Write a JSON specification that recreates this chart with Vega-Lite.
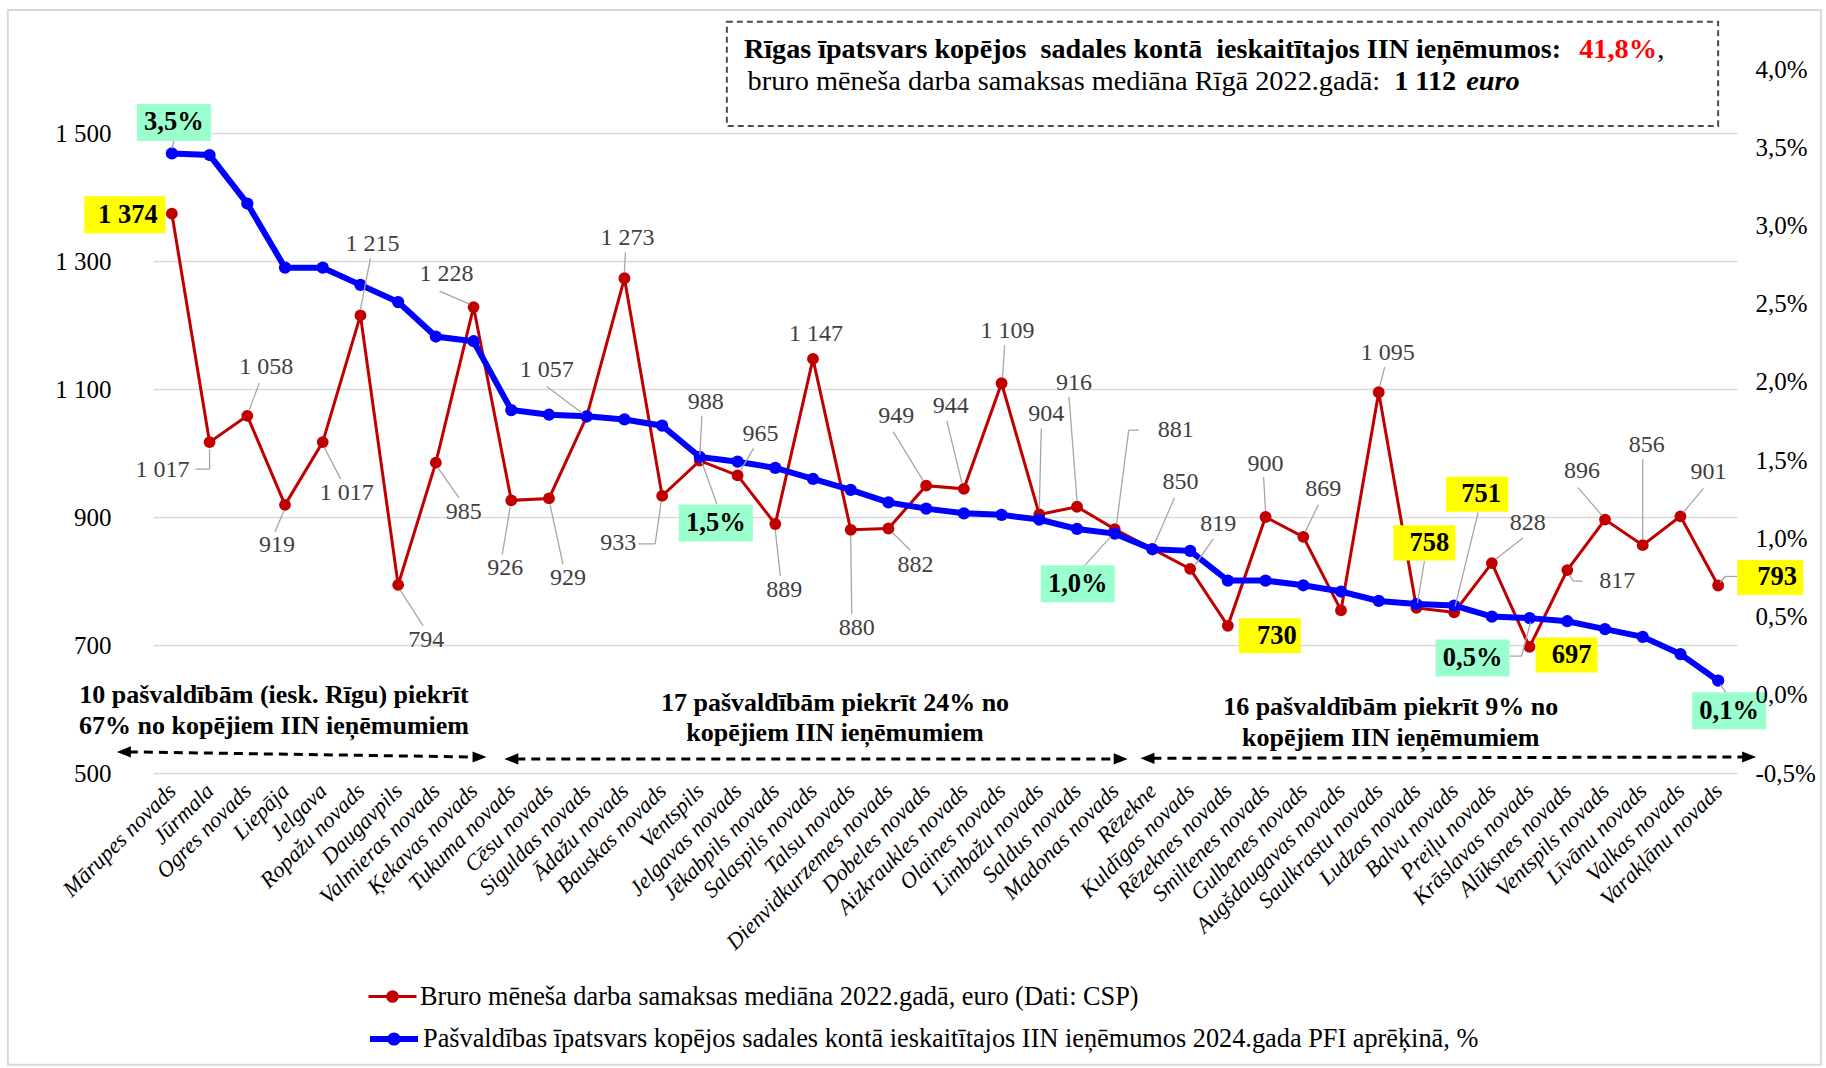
{
"$schema":"https://vega.github.io/schema/vega-lite/v6.json",
"width":1584,"height":704,
"autosize":{"type":"none"},
"padding":{"left":153,"top":69,"right":89,"bottom":295},
"background":"white",
"data":{"values":[
{"m":"Mārupes novads","w":1374,"p":0.0346},
{"m":"Jūrmala","w":1017,"p":0.0345},
{"m":"Ogres novads","w":1058,"p":0.0314},
{"m":"Liepāja","w":919,"p":0.0273},
{"m":"Jelgava","w":1017,"p":0.0273},
{"m":"Ropažu novads","w":1215,"p":0.0262},
{"m":"Daugavpils","w":794,"p":0.0251},
{"m":"Valmieras novads","w":985,"p":0.0229},
{"m":"Ķekavas novads","w":1228,"p":0.0226},
{"m":"Tukuma novads","w":926,"p":0.0182},
{"m":"Cēsu novads","w":929,"p":0.0179},
{"m":"Siguldas novads","w":1057,"p":0.0178},
{"m":"Ādažu novads","w":1273,"p":0.0176},
{"m":"Bauskas novads","w":933,"p":0.0172},
{"m":"Ventspils","w":988,"p":0.0152},
{"m":"Jelgavas novads","w":965,"p":0.0149},
{"m":"Jēkabpils novads","w":889,"p":0.0145},
{"m":"Salaspils novads","w":1147,"p":0.0138},
{"m":"Talsu novads","w":880,"p":0.0131},
{"m":"Dienvidkurzemes novads","w":882,"p":0.0123},
{"m":"Dobeles novads","w":949,"p":0.0119},
{"m":"Aizkraukles novads","w":944,"p":0.0116},
{"m":"Olaines novads","w":1109,"p":0.0115},
{"m":"Limbažu novads","w":904,"p":0.0112},
{"m":"Saldus novads","w":916,"p":0.0106},
{"m":"Madonas novads","w":881,"p":0.0103},
{"m":"Rēzekne","w":850,"p":0.0093},
{"m":"Kuldīgas novads","w":819,"p":0.0092},
{"m":"Rēzeknes novads","w":730,"p":0.0073},
{"m":"Smiltenes novads","w":900,"p":0.0073},
{"m":"Gulbenes novads","w":869,"p":0.0070},
{"m":"Augšdaugavas novads","w":754,"p":0.0066},
{"m":"Saulkrastu novads","w":1095,"p":0.0060},
{"m":"Ludzas novads","w":758,"p":0.0058},
{"m":"Balvu novads","w":751,"p":0.0057},
{"m":"Preiļu novads","w":828,"p":0.0050},
{"m":"Krāslavas novads","w":697,"p":0.0049},
{"m":"Alūksnes novads","w":817,"p":0.0047},
{"m":"Ventspils novads","w":896,"p":0.0042},
{"m":"Līvānu novads","w":856,"p":0.0037},
{"m":"Valkas novads","w":901,"p":0.0026},
{"m":"Varakļānu novads","w":793,"p":0.0009}
]},
"encoding":{"x":{"field":"m","type":"nominal","scale":{"type":"point","padding":0.5,"domain":["Mārupes novads","Jūrmala","Ogres novads","Liepāja","Jelgava","Ropažu novads","Daugavpils","Valmieras novads","Ķekavas novads","Tukuma novads","Cēsu novads","Siguldas novads","Ādažu novads","Bauskas novads","Ventspils","Jelgavas novads","Jēkabpils novads","Salaspils novads","Talsu novads","Dienvidkurzemes novads","Dobeles novads","Aizkraukles novads","Olaines novads","Limbažu novads","Saldus novads","Madonas novads","Rēzekne","Kuldīgas novads","Rēzeknes novads","Smiltenes novads","Gulbenes novads","Augšdaugavas novads","Saulkrastu novads","Ludzas novads","Balvu novads","Preiļu novads","Krāslavas novads","Alūksnes novads","Ventspils novads","Līvānu novads","Valkas novads","Varakļānu novads"]},"axis":{"title":null,"labelAngle":-45,"labelAlign":"right","labelBaseline":"middle","labelFontStyle":"italic","labelFontSize":22.5,"labelColor":"#000","labelPadding":14,"labelLimit":500,"labelOverlap":false,"domain":false,"ticks":false,"grid":false}}},
"layer":[
{"encoding":{"y":{"field":"w","type":"quantitative","scale":{"domain":[500,1600],"nice":false,"zero":false},"axis":{"title":null,"values":[500,700,900,1100,1300,1500],"format":",d","labelFontSize":25,"labelColor":"#000","labelPadding":42,"ticks":false,"domain":false,"grid":true,"gridColor":"#D9D9D9","gridWidth":1.5,"labelOverlap":false}}},
 "layer":[
  {"mark":{"type":"line","strokeWidth":3},"encoding":{"color":{"datum":"Bruro mēneša darba samaksas mediāna 2022.gadā, euro (Dati: CSP)","scale":{"range":["#C00000"]},"legend":{"title":null,"orient":"none","legendX":214,"legendY":902,"padding":0,"symbolType":"M-1,0L1,0M-0.2,0A0.2,0.2 0 1,0 0.2,0A0.2,0.2 0 1,0 -0.2,0","symbolSize":2304,"symbolStrokeColor":"#C00000","symbolFillColor":"#C00000","symbolStrokeWidth":3,"labelFontSize":26.3,"labelColor":"#000","labelLimit":1600,"labelOffset":2,"encode":{"symbols":{"update":{"shape":{"value":"M-1,0L1,0M-0.2,0A0.2,0.2 0 1,0 0.2,0A0.2,0.2 0 1,0 -0.2,0"},"size":{"value":2304},"stroke":{"value":"#C00000"},"strokeWidth":{"value":3},"fill":{"value":"#C00000"},"opacity":{"value":1},"strokeOpacity":{"value":1},"fillOpacity":{"value":1}}}}}}}},
  {"mark":{"type":"point","filled":true,"size":140,"opacity":1,"color":"#C00000"}}
 ]},
{"encoding":{"y":{"field":"p","type":"quantitative","scale":{"domain":[-0.005,0.04],"nice":false,"zero":false},"axis":{"orient":"right","title":null,"values":[-0.005,0,0.005,0.01,0.015,0.02,0.025,0.03,0.035,0.04],"format":".1%","labelFontSize":25,"labelColor":"#000","labelPadding":18,"ticks":false,"domain":false,"grid":false,"labelOverlap":false,"zindex":1}}},
 "layer":[
  {"mark":{"type":"line","strokeWidth":6},"encoding":{"color":{"datum":"Pašvaldības īpatsvars kopējos sadales kontā ieskaitītajos IIN ieņēmumos 2024.gada PFI aprēķinā, %","scale":{"range":["#0000FF"]},"legend":{"title":null,"orient":"none","legendX":214,"legendY":943,"padding":0,"symbolType":"M-1,0L1,0M-0.15,0A0.15,0.15 0 1,0 0.15,0A0.15,0.15 0 1,0 -0.15,0","symbolSize":2304,"symbolStrokeColor":"#0000FF","symbolFillColor":"#0000FF","symbolStrokeWidth":6,"labelFontSize":26.3,"labelColor":"#000","labelLimit":1600,"labelOffset":2,"encode":{"symbols":{"update":{"shape":{"value":"M-1,0L1,0M-0.15,0A0.15,0.15 0 1,0 0.15,0A0.15,0.15 0 1,0 -0.15,0"},"size":{"value":2304},"stroke":{"value":"#0000FF"},"strokeWidth":{"value":6},"fill":{"value":"#0000FF"},"opacity":{"value":1},"strokeOpacity":{"value":1},"fillOpacity":{"value":1}}}}}}}},
  {"mark":{"type":"point","filled":true,"size":150,"opacity":1,"color":"#0000FF"}}
 ]},
{"encoding":{"y":{"field":"w","type":"quantitative","scale":{"domain":[500,1600],"nice":false,"zero":false},"axis":null}},
 "layer":[
  {"transform":[{"filter":"datum.m==='Mārupes novads'"}],"layer":[
   {"mark":{"type":"rect","filled":false,"color":"#D9D9D9","strokeWidth":2,"xOffset":-164,"x2Offset":103},"encoding":{"x2":{"datum":"Varakļānu novads"},"y":{"datum":1692},"y2":{"datum":44}}},
   {"mark":{"type":"rule","color":"#000","strokeWidth":3,"strokeDash":[9,6],"xOffset":-43,"x2Offset":1},"encoding":{"x2":{"datum":"Ķekavas novads"},"y":{"datum":533},"y2":{"datum":525}}},
   {"mark":{"type":"point","shape":"M-1,0L1,-0.8L1,0.8Z","size":196,"filled":true,"color":"#000","opacity":1,"xOffset":-48},"encoding":{"y":{"datum":533}}}
  ]},
  {"transform":[{"filter":"datum.m==='Ķekavas novads'"}],"layer":[
   {"mark":{"type":"point","shape":"M1,0L-1,-0.8L-1,0.8Z","size":196,"filled":true,"color":"#000","opacity":1,"xOffset":6},"encoding":{"y":{"datum":525}}}
  ]},
  {"transform":[{"filter":"datum.m==='Tukuma novads'"}],"layer":[
   {"mark":{"type":"rule","color":"#000","strokeWidth":3,"strokeDash":[9,6],"xOffset":5,"x2Offset":1},"encoding":{"x2":{"datum":"Madonas novads"},"y":{"datum":522},"y2":{"datum":522}}},
   {"mark":{"type":"point","shape":"M-1,0L1,-0.8L1,0.8Z","size":196,"filled":true,"color":"#000","opacity":1,"xOffset":0},"encoding":{"y":{"datum":522}}}
  ]},
  {"transform":[{"filter":"datum.m==='Madonas novads'"}],"layer":[
   {"mark":{"type":"point","shape":"M1,0L-1,-0.8L-1,0.8Z","size":196,"filled":true,"color":"#000","opacity":1,"xOffset":6},"encoding":{"y":{"datum":522}}}
  ]},
  {"transform":[{"filter":"datum.m==='Rēzekne'"}],"layer":[
   {"mark":{"type":"rule","color":"#000","strokeWidth":3,"strokeDash":[9,6],"xOffset":0,"x2Offset":26},"encoding":{"x2":{"datum":"Varakļānu novads"},"y":{"datum":523},"y2":{"datum":525}}},
   {"mark":{"type":"point","shape":"M-1,0L1,-0.8L1,0.8Z","size":196,"filled":true,"color":"#000","opacity":1,"xOffset":-5},"encoding":{"y":{"datum":523}}}
  ]},
  {"transform":[{"filter":"datum.m==='Ventspils'"}],"layer":[
   {"mark":{"type":"rect","fill":"#FFFFFF","stroke":"#4D4D3D","strokeWidth":2,"strokeDash":[6,4],"xOffset":27,"x2Offset":0},"encoding":{"x2":{"datum":"Varakļānu novads"},"y":{"datum":1674},"y2":{"datum":1511}}}
  ]},
  {"transform":[{"filter":"datum.m==='Varakļānu novads'"}],"layer":[
   {"mark":{"type":"point","shape":"M1,0L-1,-0.8L-1,0.8Z","size":196,"filled":true,"color":"#000","opacity":1,"xOffset":31},"encoding":{"y":{"datum":525}}},
   {"mark":{"type":"text","align":"right","dx":-157,"fontSize":28.1,"fontWeight":"bold","color":"#000"},"encoding":{"y":{"datum":1630},"text":{"value":"Rīgas īpatsvars kopējos\u00a0 sadales kontā\u00a0 ieskaitītajos IIN ieņēmumos:"}}},
   {"mark":{"type":"text","align":"left","dx":-139,"fontSize":28.3,"fontWeight":"bold","color":"#FF0000"},"encoding":{"y":{"datum":1630},"text":{"value":"41,8%"}}},
   {"mark":{"type":"text","align":"left","dx":-61,"fontSize":28.3,"color":"#000"},"encoding":{"y":{"datum":1630},"text":{"value":","}}},
   {"mark":{"type":"text","align":"right","dx":-338,"fontSize":28.3,"color":"#000"},"encoding":{"y":{"datum":1579},"text":{"value":"bruro mēneša darba samaksas mediāna Rīgā 2022.gadā:"}}},
   {"mark":{"type":"text","align":"left","dx":-324,"fontSize":28.3,"fontWeight":"bold","color":"#000"},"encoding":{"y":{"datum":1579},"text":{"value":"1 112"}}},
   {"mark":{"type":"text","align":"left","dx":-252,"fontSize":28.3,"fontWeight":"bold","fontStyle":"italic","color":"#000"},"encoding":{"y":{"datum":1579},"text":{"value":"euro"}}}
  ]},
  {"transform":[{"filter":"datum.m==='Liepāja'"}],"layer":[
   {"mark":{"type":"text","dx":-11,"fontSize":26,"fontWeight":"bold","color":"#000"},"encoding":{"y":{"datum":622},"text":{"value":"10 pašvaldībām (iesk. Rīgu) piekrīt"}}},
   {"mark":{"type":"text","dx":-11,"fontSize":26,"fontWeight":"bold","color":"#000"},"encoding":{"y":{"datum":573},"text":{"value":"67% no kopējiem IIN ieņēmumiem"}}}
  ]},
  {"transform":[{"filter":"datum.m==='Salaspils novads'"}],"layer":[
   {"mark":{"type":"text","dx":22,"fontSize":26,"fontWeight":"bold","color":"#000"},"encoding":{"y":{"datum":609},"text":{"value":"17 pašvaldībām piekrīt 24% no"}}},
   {"mark":{"type":"text","dx":22,"fontSize":26,"fontWeight":"bold","color":"#000"},"encoding":{"y":{"datum":562},"text":{"value":"kopējiem IIN ieņēmumiem"}}}
  ]},
  {"transform":[{"filter":"datum.m==='Saulkrastu novads'"}],"layer":[
   {"mark":{"type":"text","dx":12,"fontSize":26,"fontWeight":"bold","color":"#000"},"encoding":{"y":{"datum":603},"text":{"value":"16 pašvaldībām piekrīt 9% no"}}},
   {"mark":{"type":"text","dx":12,"fontSize":26,"fontWeight":"bold","color":"#000"},"encoding":{"y":{"datum":555},"text":{"value":"kopējiem IIN ieņēmumiem"}}}
  ]},
  {"transform":[{"filter":"datum.m==='Mārupes novads'"}],"layer":[
   {"mark":{"type":"point","shape":"M-1,-0.457L1,-0.457L1,0.457L-1,0.457Z","size":6561,"filled":true,"color":"#FFFF00","opacity":1,"strokeWidth":0,"xOffset":-47,"yOffset":1}},
   {"mark":{"type":"text","dx":-44,"dy":1,"fontWeight":"bold","fontSize":26.5,"color":"#000"},"encoding":{"text":{"field":"w","format":","}}}]},
  {"transform":[{"filter":"datum.m==='Jūrmala'"}],"layer":[
   {"mark":{"type":"rule","xOffset":-14,"yOffset":27,"x2Offset":0,"y2Offset":27},"encoding":{"x2":{"field":"m"},"y2":{"field":"w"}}},
   {"mark":{"type":"rule","xOffset":0,"yOffset":27,"x2Offset":0,"y2Offset":7},"encoding":{"x2":{"field":"m"},"y2":{"field":"w"}}},
   {"mark":{"type":"text","dx":-47,"dy":28},"encoding":{"text":{"field":"w","format":","}}}]},
  {"transform":[{"filter":"datum.m==='Ogres novads'"}],"layer":[
   {"mark":{"type":"rule","xOffset":12,"yOffset":-33,"x2Offset":2,"y2Offset":-6},"encoding":{"x2":{"field":"m"},"y2":{"field":"w"}}},
   {"mark":{"type":"text","dx":19,"dy":-49},"encoding":{"text":{"field":"w","format":","}}}]},
  {"transform":[{"filter":"datum.m==='Liepāja'"}],"layer":[
   {"mark":{"type":"rule","xOffset":-10,"yOffset":27,"x2Offset":-1,"y2Offset":6},"encoding":{"x2":{"field":"m"},"y2":{"field":"w"}}},
   {"mark":{"type":"text","dx":-8,"dy":40},"encoding":{"text":{"field":"w","format":","}}}]},
  {"transform":[{"filter":"datum.m==='Jelgava'"}],"layer":[
   {"mark":{"type":"rule","xOffset":18,"yOffset":37,"x2Offset":2,"y2Offset":6},"encoding":{"x2":{"field":"m"},"y2":{"field":"w"}}},
   {"mark":{"type":"text","dx":24,"dy":51},"encoding":{"text":{"field":"w","format":","}}}]},
  {"transform":[{"filter":"datum.m==='Ropažu novads'"}],"layer":[
   {"mark":{"type":"rule","xOffset":10,"yOffset":-57,"x2Offset":0,"y2Offset":-6},"encoding":{"x2":{"field":"m"},"y2":{"field":"w"}}},
   {"mark":{"type":"text","dx":12,"dy":-71},"encoding":{"text":{"field":"w","format":","}}}]},
  {"transform":[{"filter":"datum.m==='Daugavpils'"}],"layer":[
   {"mark":{"type":"rule","xOffset":25,"yOffset":41,"x2Offset":2,"y2Offset":5},"encoding":{"x2":{"field":"m"},"y2":{"field":"w"}}},
   {"mark":{"type":"text","dx":28,"dy":55},"encoding":{"text":{"field":"w","format":","}}}]},
  {"transform":[{"filter":"datum.m==='Valmieras novads'"}],"layer":[
   {"mark":{"type":"rule","xOffset":23,"yOffset":35,"x2Offset":2,"y2Offset":5},"encoding":{"x2":{"field":"m"},"y2":{"field":"w"}}},
   {"mark":{"type":"text","dx":28,"dy":49},"encoding":{"text":{"field":"w","format":","}}}]},
  {"transform":[{"filter":"datum.m==='Ķekavas novads'"}],"layer":[
   {"mark":{"type":"rule","xOffset":-34,"yOffset":-16,"x2Offset":-4,"y2Offset":-3},"encoding":{"x2":{"field":"m"},"y2":{"field":"w"}}},
   {"mark":{"type":"text","dx":-27,"dy":-33},"encoding":{"text":{"field":"w","format":","}}}]},
  {"transform":[{"filter":"datum.m==='Tukuma novads'"}],"layer":[
   {"mark":{"type":"rule","xOffset":-9,"yOffset":54,"x2Offset":-1,"y2Offset":6},"encoding":{"x2":{"field":"m"},"y2":{"field":"w"}}},
   {"mark":{"type":"text","dx":-6,"dy":68},"encoding":{"text":{"field":"w","format":","}}}]},
  {"transform":[{"filter":"datum.m==='Cēsu novads'"}],"layer":[
   {"mark":{"type":"rule","xOffset":14,"yOffset":66,"x2Offset":1,"y2Offset":6},"encoding":{"x2":{"field":"m"},"y2":{"field":"w"}}},
   {"mark":{"type":"text","dx":19,"dy":80},"encoding":{"text":{"field":"w","format":","}}}]},
  {"transform":[{"filter":"datum.m==='Siguldas novads'"}],"layer":[
   {"mark":{"type":"rule","xOffset":-40,"yOffset":-30,"x2Offset":-4,"y2Offset":-3},"encoding":{"x2":{"field":"m"},"y2":{"field":"w"}}},
   {"mark":{"type":"text","dx":-40,"dy":-47},"encoding":{"text":{"field":"w","format":","}}}]},
  {"transform":[{"filter":"datum.m==='Ādažu novads'"}],"layer":[
   {"mark":{"type":"rule","xOffset":1,"yOffset":-26,"x2Offset":0,"y2Offset":-6},"encoding":{"x2":{"field":"m"},"y2":{"field":"w"}}},
   {"mark":{"type":"text","dx":3,"dy":-40},"encoding":{"text":{"field":"w","format":","}}}]},
  {"transform":[{"filter":"datum.m==='Bauskas novads'"}],"layer":[
   {"mark":{"type":"rule","xOffset":-24,"yOffset":48,"x2Offset":-7,"y2Offset":48},"encoding":{"x2":{"field":"m"},"y2":{"field":"w"}}},
   {"mark":{"type":"rule","xOffset":-7,"yOffset":48,"x2Offset":-1,"y2Offset":6},"encoding":{"x2":{"field":"m"},"y2":{"field":"w"}}},
   {"mark":{"type":"text","dx":-44,"dy":47},"encoding":{"text":{"field":"w","format":","}}}]},
  {"transform":[{"filter":"datum.m==='Ventspils'"}],"layer":[
   {"mark":{"type":"rule","xOffset":2,"yOffset":-45,"x2Offset":0,"y2Offset":-6},"encoding":{"x2":{"field":"m"},"y2":{"field":"w"}}},
   {"mark":{"type":"text","dx":6,"dy":-59},"encoding":{"text":{"field":"w","format":","}}}]},
  {"transform":[{"filter":"datum.m==='Jelgavas novads'"}],"layer":[
   {"mark":{"type":"rule","xOffset":16,"yOffset":-27,"x2Offset":3,"y2Offset":-5},"encoding":{"x2":{"field":"m"},"y2":{"field":"w"}}},
   {"mark":{"type":"text","dx":23,"dy":-41},"encoding":{"text":{"field":"w","format":","}}}]},
  {"transform":[{"filter":"datum.m==='Jēkabpils novads'"}],"layer":[
   {"mark":{"type":"rule","xOffset":5,"yOffset":52,"x2Offset":0,"y2Offset":6},"encoding":{"x2":{"field":"m"},"y2":{"field":"w"}}},
   {"mark":{"type":"text","dx":9,"dy":66},"encoding":{"text":{"field":"w","format":","}}}]},
  {"transform":[{"filter":"datum.m==='Salaspils novads'"}],"layer":[
   {"mark":{"type":"text","dx":3,"dy":-25},"encoding":{"text":{"field":"w","format":","}}}]},
  {"transform":[{"filter":"datum.m==='Talsu novads'"}],"layer":[
   {"mark":{"type":"rule","xOffset":1,"yOffset":84,"x2Offset":0,"y2Offset":6},"encoding":{"x2":{"field":"m"},"y2":{"field":"w"}}},
   {"mark":{"type":"text","dx":6,"dy":98},"encoding":{"text":{"field":"w","format":","}}}]},
  {"transform":[{"filter":"datum.m==='Dienvidkurzemes novads'"}],"layer":[
   {"mark":{"type":"rule","xOffset":22,"yOffset":22,"x2Offset":4,"y2Offset":4},"encoding":{"x2":{"field":"m"},"y2":{"field":"w"}}},
   {"mark":{"type":"text","dx":27,"dy":36},"encoding":{"text":{"field":"w","format":","}}}]},
  {"transform":[{"filter":"datum.m==='Dobeles novads'"}],"layer":[
   {"mark":{"type":"rule","xOffset":-33,"yOffset":-54,"x2Offset":-3,"y2Offset":-5},"encoding":{"x2":{"field":"m"},"y2":{"field":"w"}}},
   {"mark":{"type":"text","dx":-30,"dy":-70},"encoding":{"text":{"field":"w","format":","}}}]},
  {"transform":[{"filter":"datum.m==='Aizkraukles novads'"}],"layer":[
   {"mark":{"type":"rule","xOffset":-17,"yOffset":-68,"x2Offset":-2,"y2Offset":-6},"encoding":{"x2":{"field":"m"},"y2":{"field":"w"}}},
   {"mark":{"type":"text","dx":-13,"dy":-83},"encoding":{"text":{"field":"w","format":","}}}]},
  {"transform":[{"filter":"datum.m==='Olaines novads'"}],"layer":[
   {"mark":{"type":"rule","xOffset":3,"yOffset":-38,"x2Offset":1,"y2Offset":-6},"encoding":{"x2":{"field":"m"},"y2":{"field":"w"}}},
   {"mark":{"type":"text","dx":6,"dy":-52},"encoding":{"text":{"field":"w","format":","}}}]},
  {"transform":[{"filter":"datum.m==='Limbažu novads'"}],"layer":[
   {"mark":{"type":"rule","xOffset":2,"yOffset":-86,"x2Offset":0,"y2Offset":-6},"encoding":{"x2":{"field":"m"},"y2":{"field":"w"}}},
   {"mark":{"type":"text","dx":7,"dy":-100},"encoding":{"text":{"field":"w","format":","}}}]},
  {"transform":[{"filter":"datum.m==='Saldus novads'"}],"layer":[
   {"mark":{"type":"rule","xOffset":-8,"yOffset":-110,"x2Offset":0,"y2Offset":-6},"encoding":{"x2":{"field":"m"},"y2":{"field":"w"}}},
   {"mark":{"type":"text","dx":-3,"dy":-124},"encoding":{"text":{"field":"w","format":","}}}]},
  {"transform":[{"filter":"datum.m==='Madonas novads'"}],"layer":[
   {"mark":{"type":"rule","xOffset":24,"yOffset":-99,"x2Offset":14,"y2Offset":-99},"encoding":{"x2":{"field":"m"},"y2":{"field":"w"}}},
   {"mark":{"type":"rule","xOffset":14,"yOffset":-99,"x2Offset":2,"y2Offset":-6},"encoding":{"x2":{"field":"m"},"y2":{"field":"w"}}},
   {"mark":{"type":"text","dx":61,"dy":-99},"encoding":{"text":{"field":"w","format":","}}}]},
  {"transform":[{"filter":"datum.m==='Rēzekne'"}],"layer":[
   {"mark":{"type":"rule","xOffset":22,"yOffset":-51,"x2Offset":2,"y2Offset":-5},"encoding":{"x2":{"field":"m"},"y2":{"field":"w"}}},
   {"mark":{"type":"text","dx":28,"dy":-67},"encoding":{"text":{"field":"w","format":","}}}]},
  {"transform":[{"filter":"datum.m==='Kuldīgas novads'"}],"layer":[
   {"mark":{"type":"rule","xOffset":23,"yOffset":-30,"x2Offset":5,"y2Offset":-4},"encoding":{"x2":{"field":"m"},"y2":{"field":"w"}}},
   {"mark":{"type":"text","dx":28,"dy":-45},"encoding":{"text":{"field":"w","format":","}}}]},
  {"transform":[{"filter":"datum.m==='Rēzeknes novads'"}],"layer":[
   {"mark":{"type":"point","shape":"M-1,-0.565L1,-0.565L1,0.565L-1,0.565Z","size":3844,"filled":true,"color":"#FFFF00","opacity":1,"strokeWidth":0,"xOffset":42,"yOffset":10}},
   {"mark":{"type":"text","dx":49,"dy":10,"fontWeight":"bold","fontSize":26.5,"color":"#000"},"encoding":{"text":{"field":"w","format":","}}}]},
  {"transform":[{"filter":"datum.m==='Smiltenes novads'"}],"layer":[
   {"mark":{"type":"rule","xOffset":-2,"yOffset":-40,"x2Offset":0,"y2Offset":-6},"encoding":{"x2":{"field":"m"},"y2":{"field":"w"}}},
   {"mark":{"type":"text","dx":0,"dy":-53},"encoding":{"text":{"field":"w","format":","}}}]},
  {"transform":[{"filter":"datum.m==='Gulbenes novads'"}],"layer":[
   {"mark":{"type":"rule","xOffset":15,"yOffset":-32,"x2Offset":2,"y2Offset":-5},"encoding":{"x2":{"field":"m"},"y2":{"field":"w"}}},
   {"mark":{"type":"text","dx":20,"dy":-48},"encoding":{"text":{"field":"w","format":","}}}]},
  {"transform":[{"filter":"datum.m==='Saulkrastu novads'"}],"layer":[
   {"mark":{"type":"rule","xOffset":6,"yOffset":-25,"x2Offset":1,"y2Offset":-6},"encoding":{"x2":{"field":"m"},"y2":{"field":"w"}}},
   {"mark":{"type":"text","dx":9,"dy":-39},"encoding":{"text":{"field":"w","format":","}}}]},
  {"transform":[{"filter":"datum.m==='Ludzas novads'"}],"layer":[
   {"mark":{"type":"rule","xOffset":8,"yOffset":-47,"x2Offset":1,"y2Offset":-5},"encoding":{"x2":{"field":"m"},"y2":{"field":"w"}}},
   {"mark":{"type":"point","shape":"M-1,-0.565L1,-0.565L1,0.565L-1,0.565Z","size":3844,"filled":true,"color":"#FFFF00","opacity":1,"strokeWidth":0,"xOffset":8,"yOffset":-65}},
   {"mark":{"type":"text","dx":13,"dy":-65,"fontWeight":"bold","fontSize":26.5,"color":"#000"},"encoding":{"text":{"field":"w","format":","}}}]},
  {"transform":[{"filter":"datum.m==='Balvu novads'"}],"layer":[
   {"mark":{"type":"rule","xOffset":24,"yOffset":-100,"x2Offset":1,"y2Offset":-6},"encoding":{"x2":{"field":"m"},"y2":{"field":"w"}}},
   {"mark":{"type":"point","shape":"M-1,-0.565L1,-0.565L1,0.565L-1,0.565Z","size":3844,"filled":true,"color":"#FFFF00","opacity":1,"strokeWidth":0,"xOffset":23,"yOffset":-118}},
   {"mark":{"type":"text","dx":27,"dy":-118,"fontWeight":"bold","fontSize":26.5,"color":"#000"},"encoding":{"text":{"field":"w","format":","}}}]},
  {"transform":[{"filter":"datum.m==='Preiļu novads'"}],"layer":[
   {"mark":{"type":"rule","xOffset":31,"yOffset":-25,"x2Offset":4,"y2Offset":-4},"encoding":{"x2":{"field":"m"},"y2":{"field":"w"}}},
   {"mark":{"type":"text","dx":36,"dy":-40},"encoding":{"text":{"field":"w","format":","}}}]},
  {"transform":[{"filter":"datum.m==='Krāslavas novads'"}],"layer":[
   {"mark":{"type":"point","shape":"M-1,-0.565L1,-0.565L1,0.565L-1,0.565Z","size":3844,"filled":true,"color":"#FFFF00","opacity":1,"strokeWidth":0,"xOffset":37,"yOffset":8}},
   {"mark":{"type":"text","dx":42,"dy":8,"fontWeight":"bold","fontSize":26.5,"color":"#000"},"encoding":{"text":{"field":"w","format":","}}}]},
  {"transform":[{"filter":"datum.m==='Alūksnes novads'"}],"layer":[
   {"mark":{"type":"rule","xOffset":15,"yOffset":11,"x2Offset":6,"y2Offset":11},"encoding":{"x2":{"field":"m"},"y2":{"field":"w"}}},
   {"mark":{"type":"rule","xOffset":6,"yOffset":11,"x2Offset":2,"y2Offset":5},"encoding":{"x2":{"field":"m"},"y2":{"field":"w"}}},
   {"mark":{"type":"text","dx":50,"dy":11},"encoding":{"text":{"field":"w","format":","}}}]},
  {"transform":[{"filter":"datum.m==='Ventspils novads'"}],"layer":[
   {"mark":{"type":"rule","xOffset":-27,"yOffset":-32,"x2Offset":-3,"y2Offset":-4},"encoding":{"x2":{"field":"m"},"y2":{"field":"w"}}},
   {"mark":{"type":"text","dx":-23,"dy":-49},"encoding":{"text":{"field":"w","format":","}}}]},
  {"transform":[{"filter":"datum.m==='Līvānu novads'"}],"layer":[
   {"mark":{"type":"rule","xOffset":0,"yOffset":-86,"x2Offset":0,"y2Offset":-6},"encoding":{"x2":{"field":"m"},"y2":{"field":"w"}}},
   {"mark":{"type":"text","dx":4,"dy":-100},"encoding":{"text":{"field":"w","format":","}}}]},
  {"transform":[{"filter":"datum.m==='Valkas novads'"}],"layer":[
   {"mark":{"type":"rule","xOffset":23,"yOffset":-28,"x2Offset":3,"y2Offset":-4},"encoding":{"x2":{"field":"m"},"y2":{"field":"w"}}},
   {"mark":{"type":"text","dx":28,"dy":-44},"encoding":{"text":{"field":"w","format":","}}}]},
  {"transform":[{"filter":"datum.m==='Varakļānu novads'"}],"layer":[
   {"mark":{"type":"rule","xOffset":19,"yOffset":-9,"x2Offset":7,"y2Offset":-9},"encoding":{"x2":{"field":"m"},"y2":{"field":"w"}}},
   {"mark":{"type":"rule","xOffset":7,"yOffset":-9,"x2Offset":2,"y2Offset":-3},"encoding":{"x2":{"field":"m"},"y2":{"field":"w"}}},
   {"mark":{"type":"point","shape":"M-1,-0.53L1,-0.53L1,0.53L-1,0.53Z","size":4356,"filled":true,"color":"#FFFF00","opacity":1,"strokeWidth":0,"xOffset":52,"yOffset":-8}},
   {"mark":{"type":"text","dx":59,"dy":-8,"fontWeight":"bold","fontSize":26.5,"color":"#000"},"encoding":{"text":{"field":"w","format":","}}}]}
 ]},
{"encoding":{"y":{"field":"p","type":"quantitative","scale":{"domain":[-0.005,0.04],"nice":false,"zero":false},"axis":null}},
 "layer":[
  {"transform":[{"filter":"datum.m==='Mārupes novads'"}],"layer":[
   {"mark":{"type":"rule","xOffset":2,"yOffset":-13,"x2Offset":0,"y2Offset":-5},"encoding":{"x2":{"field":"m"},"y2":{"field":"p"}}},
   {"mark":{"type":"point","shape":"M-1,-0.5L1,-0.5L1,0.5L-1,0.5Z","size":5476,"filled":true,"color":"#99FFCC","opacity":1,"strokeWidth":0,"xOffset":2,"yOffset":-31}},
   {"mark":{"type":"text","dx":2,"dy":-31,"fontWeight":"bold","fontSize":26.5,"color":"#000"},"encoding":{"text":{"field":"p","format":".1%"}}}]},
  {"transform":[{"filter":"datum.m==='Ventspils'"}],"layer":[
   {"mark":{"type":"rule","xOffset":17,"yOffset":47,"x2Offset":2,"y2Offset":5},"encoding":{"x2":{"field":"m"},"y2":{"field":"p"}}},
   {"mark":{"type":"point","shape":"M-1,-0.5L1,-0.5L1,0.5L-1,0.5Z","size":5476,"filled":true,"color":"#99FFCC","opacity":1,"strokeWidth":0,"xOffset":16,"yOffset":66}},
   {"mark":{"type":"text","dx":16,"dy":66,"fontWeight":"bold","fontSize":26.5,"color":"#000"},"encoding":{"text":{"field":"p","format":".1%"}}}]},
  {"transform":[{"filter":"datum.m==='Madonas novads'"}],"layer":[
   {"mark":{"type":"rule","xOffset":-30,"yOffset":32,"x2Offset":-4,"y2Offset":3},"encoding":{"x2":{"field":"m"},"y2":{"field":"p"}}},
   {"mark":{"type":"point","shape":"M-1,-0.5L1,-0.5L1,0.5L-1,0.5Z","size":5476,"filled":true,"color":"#99FFCC","opacity":1,"strokeWidth":0,"xOffset":-37,"yOffset":50}},
   {"mark":{"type":"text","dx":-37,"dy":50,"fontWeight":"bold","fontSize":26.5,"color":"#000"},"encoding":{"text":{"field":"p","format":".1%"}}}]},
  {"transform":[{"filter":"datum.m==='Krāslavas novads'"}],"layer":[
   {"mark":{"type":"rule","xOffset":-20,"yOffset":38,"x2Offset":-8,"y2Offset":38},"encoding":{"x2":{"field":"m"},"y2":{"field":"p"}}},
   {"mark":{"type":"rule","xOffset":-8,"yOffset":38,"x2Offset":1,"y2Offset":4},"encoding":{"x2":{"field":"m"},"y2":{"field":"p"}}},
   {"mark":{"type":"point","shape":"M-1,-0.5L1,-0.5L1,0.5L-1,0.5Z","size":5476,"filled":true,"color":"#99FFCC","opacity":1,"strokeWidth":0,"xOffset":-57,"yOffset":40}},
   {"mark":{"type":"text","dx":-57,"dy":40,"fontWeight":"bold","fontSize":26.5,"color":"#000"},"encoding":{"text":{"field":"p","format":".1%"}}}]},
  {"transform":[{"filter":"datum.m==='Varakļānu novads'"}],"layer":[
   {"mark":{"type":"rule","xOffset":8,"yOffset":12,"x2Offset":2,"y2Offset":4},"encoding":{"x2":{"field":"m"},"y2":{"field":"p"}}},
   {"mark":{"type":"point","shape":"M-1,-0.5L1,-0.5L1,0.5L-1,0.5Z","size":5476,"filled":true,"color":"#99FFCC","opacity":1,"strokeWidth":0,"xOffset":11,"yOffset":30}},
   {"mark":{"type":"text","dx":11,"dy":30,"fontWeight":"bold","fontSize":26.5,"color":"#000"},"encoding":{"text":{"field":"p","format":".1%"}}}]}
 ]}
],
"resolve":{"scale":{"y":"independent","color":"independent"}},
"config":{
 "view":{"stroke":null},
 "font":"Liberation Serif",
 "text":{"font":"Liberation Serif","fontSize":24,"color":"#404040"},
 "rule":{"color":"#A6A6A6","strokeWidth":1.3},
 "axis":{"labelFont":"Liberation Serif"},
 "legend":{"labelFont":"Liberation Serif"},
 "locale":{"number":{"decimal":",","thousands":" ","grouping":[3],"currency":["","€"],"minus":"-"}}
}
}
